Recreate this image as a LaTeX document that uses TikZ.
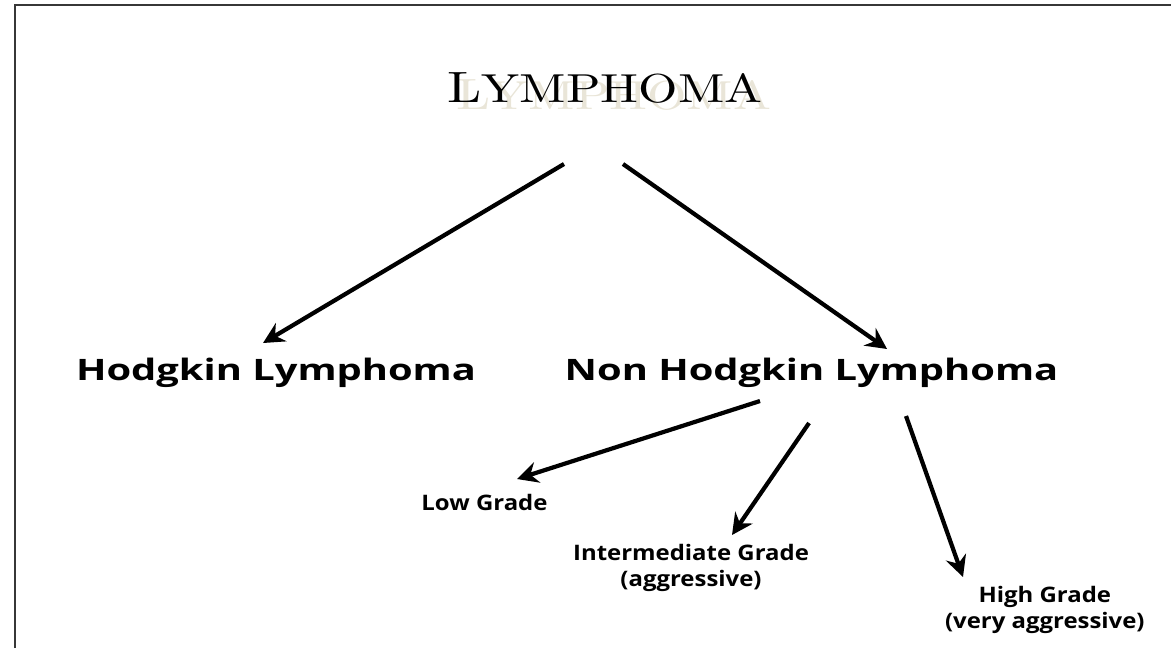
\documentclass[tikz,border=0pt]{standalone}
\usepackage{fontspec}
\usepackage{tikz}
\usetikzlibrary{arrows.meta,positioning,calc}
\newfontfamily\titlefont{lmroman10-regular.otf}[FakeStretch=1.25]
\newfontfamily\labelfont{Open Sans}[FakeStretch=1.35]
\newfontfamily\gradefont{Open Sans}[FakeStretch=1.12]
\definecolor{shadowtan}{RGB}{233,229,216}
\definecolor{framegray}{RGB}{55,55,55}
\newcommand{\lymtitle}{{\fontsize{15.6}{18}\selectfont L}{\fontsize{14.4}{18}\selectfont YMPHOMA}}

\begin{document}
\begin{tikzpicture}[
    head/.style={font=\titlefont, inner sep=0pt, anchor=base},
    big/.style={font=\labelfont\bfseries\fontsize{10.5}{12}\selectfont, inner sep=0pt, anchor=base},
    small/.style={font=\gradefont\bfseries\fontsize{7.6}{8.9}\selectfont, inner sep=0pt, anchor=base, align=center},
    arr/.style={-{Stealth[length=7.5pt,width=7.5pt,inset=2.5pt]}, line width=1.5pt}
]
\useasboundingbox (0,0) rectangle (14.6375,-8.1);
\draw[framegray, line width=1pt] (0.1875,-8.1) -- (0.1875,-0.0625) -- (14.6375,-0.0625);

\node[head, text=shadowtan] (titleshadow) at (7.6725,-1.37) {\lymtitle};
\node[head] (title) at (7.5625,-1.275) {\lymtitle};

\node[big] (hodgkin) at (3.45,-4.75) {Hodgkin Lymphoma};
\node[big] (nhl) at (10.144,-4.75) {Non Hodgkin Lymphoma};
\node[small] (low) at (6.056,-6.375) {Low Grade};
\node[small] (inter) at (8.6375,-7.325) {Intermediate Grade\\(aggressive)};
\node[small] (high) at (13.06,-7.85) {High Grade\\(very aggressive)};

\draw[arr] ([shift={(-0.5125,-0.775)}]title.base) -- ([shift={(-0.1625,0.4625)}]hodgkin.base);
\draw[arr] ([shift={(0.225,-0.775)}]title.base) -- ([shift={(0.944,0.3875)}]nhl.base);
\draw[arr] ([shift={(-0.644,-0.2625)}]nhl.base) -- ([shift={(0.406,0.3875)}]low.base);
\draw[arr] ([shift={(-0.031,-0.5375)}]nhl.base) -- ([shift={(0.5125,0.6375)}]inter.base);
\draw[arr] ([shift={(1.181,-0.45)}]nhl.base) -- ([shift={(-1.0225,0.6375)}]high.base);
\end{tikzpicture}
\end{document}
